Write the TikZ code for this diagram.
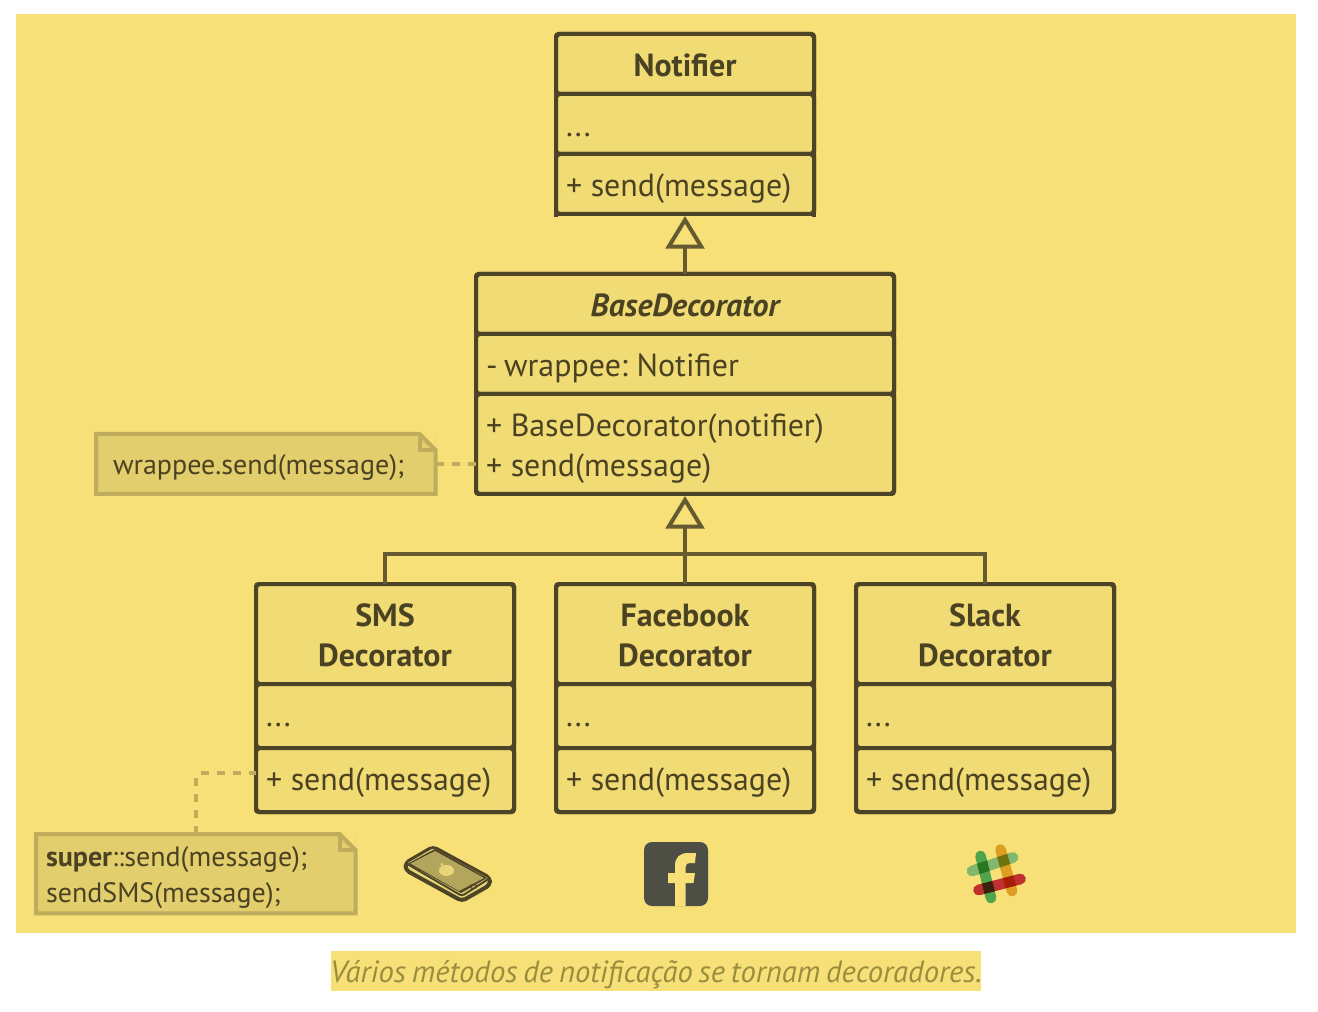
\documentclass[tikz,border=0pt]{standalone}
\usepackage{fontspec}
\setmainfont[WordSpace=0.72]{PT Sans}
\newfontfamily\boxfont[WordSpace=0.5]{PT Sans}
\frenchspacing
\usetikzlibrary{arrows.meta,calc}
\definecolor{panel}{HTML}{F7E077}
\definecolor{comp}{HTML}{F0DB74}
\definecolor{ink}{HTML}{4D4327}
\definecolor{txt}{HTML}{4A4222}
\definecolor{conn}{HTML}{665B30}
\definecolor{notefill}{HTML}{E2CE6C}
\definecolor{noteline}{HTML}{BFAC5C}
\definecolor{cap}{HTML}{9A8D3E}
\definecolor{fbdark}{HTML}{4D4F45}
\definecolor{screen}{HTML}{B3A65C}
\definecolor{apple}{HTML}{E6D675}
\newcommand{\topstrut}{\rule{0pt}{25pt}}
\newcommand{\botstrut}{\rule[-6pt]{0pt}{6pt}}
\newcommand{\botlong}{\rule[-9pt]{0pt}{9pt}}
\newcommand{\ntop}{\rule{0pt}{21.5pt}}
\newcommand{\nbot}{\rule[-5.5pt]{0pt}{5.5pt}}
\newcommand{\tight}{\kern-1.5pt}
\tikzset{
  x=0.75pt,y=-0.75pt,
  compart/.style n args={2}{draw=ink,fill=comp,line width=3pt,rounded corners=3pt,outer sep=0pt,
    inner xsep=7.5pt,inner ysep=0pt,minimum height=#2*0.75pt,minimum width=#1*0.75pt,
    text width=(#1-20)*0.75pt,text=txt,font=\boxfont\fontsize{23.95pt}{30pt}\selectfont,
    execute at begin node=\topstrut,execute at end node=\botstrut},
  headbox/.style n args={2}{compart={#1}{#2},align=center,font=\boxfont\fontsize{23.95pt}{30pt}\selectfont\bfseries},
  bodybox/.style n args={2}{compart={#1}{#2},align=left},
  shortbox/.style={bodybox={258}{64},execute at end node=\botlong},
  backing/.style={fill=ink,rounded corners=3pt},
  inherit/.style={draw=conn,line width=3pt,shorten >=1.5pt,-{Triangle[open,length=24.5pt,width=29pt,line width=3pt]}},
  bus/.style={draw=conn,line width=3pt},
  notebox/.style n args={3}{fill=notefill,outer sep=0pt,inner sep=0pt,minimum width=#1*0.75pt,minimum height=#2*0.75pt,
    text=txt,align=left,text width=(#1-2*#3)*0.75pt,font=\fontsize{21pt}{27pt}\selectfont,
    execute at begin node=\ntop,execute at end node=\nbot},
  noteedge/.style={draw=noteline,line width=3pt,line join=miter},
  notelink/.style={draw=noteline,line width=3pt,dash pattern=on 6pt off 6pt,rounded corners=3pt},
  slackbar/.style={line cap=round,line width=8pt},
}
\begin{document}
\begin{tikzpicture}
\useasboundingbox (0,0) rectangle (1318,1012);
\fill[white] (0,0) rectangle (1318,1012);
\fill[panel] (16,14) rectangle (1296,933);

% class backings
\fill[backing] (554,32) rectangle (816,216);
\fill[backing] (474,272) rectangle (896,496);
\fill[backing] (254,582) rectangle (516,814);
\fill[backing] (554,582) rectangle (816,814);
\fill[backing] (854,582) rectangle (1116,814);

% Notifier
\node[headbox={258}{60}] (nHead) at (685,64) {Notifier};
\node[bodybox={258}{60}] (nMid) at (685,124) {...};
\node[bodybox={258}{60}] (nLow) at (685,184) {+\tight{} send(message)};
\fill[ink] (554,211) rectangle (558,217);
\fill[ink] (812,211) rectangle (816,217);
% BaseDecorator
\node[headbox={418}{60}] (bHead) at (685,304) {\itshape BaseDecorator};
\node[bodybox={418}{60}] (bMid) at (685,364) {-\tight\tight{} wrappee:\tight{} Notifier};
\node[bodybox={418}{100}] (bLow) at (685,444) {+\tight{} BaseDecorator(notifier)\\+\tight{} send(message)};
% SMS
\node[headbox={258}{100}] (sHead) at (385,634) {SMS\\Decorator};
\node[shortbox] (sMid) at (385,716) {...};
\node[shortbox] (sLow) at (385,780) {+\tight{} send(message)};
% Facebook
\node[headbox={258}{100}] (fHead) at (685,634) {Facebook\\Decorator};
\node[shortbox] (fMid) at (685,716) {...};
\node[shortbox] (fLow) at (685,780) {+\tight{} send(message)};
% Slack
\node[headbox={258}{100}] (kHead) at (985,634) {Slack\\Decorator};
\node[shortbox] (kMid) at (985,716) {...};
\node[shortbox] (kLow) at (985,780) {+\tight{} send(message)};

% inheritance
\draw[inherit] (bHead.north) -- (nLow.south);
\coordinate (busC) at (685,554);
\draw[bus] (sHead.north) |- (busC);
\draw[bus] (kHead.north) |- (busC);
\draw[inherit] (fHead.north) -- (bLow.south);

% notes
\node[notebox={339.5}{60}{17}] (noteA) at (265.75,464) {wrappee.send(message);};
\fill[panel] (noteA.north east) ++(-16,0) -- (noteA.north east) -- ++(0,16) -- cycle;
\draw[noteedge] (noteA.north west) -- ($(noteA.north east)+(-16,0)$) -- ($(noteA.north east)+(0,16)$) -- (noteA.south east) -- (noteA.south west) -- cycle;
\draw[noteedge] ($(noteA.north east)+(-16,0)$) -- ++(0,16) -- ++(16,0);
\node[notebox={319.5}{79.3}{10}] (noteB) at (195.75,873.7) {\textbf{super}::send(message);\\sendSMS(message);};
\fill[panel] (noteB.north east) ++(-16,0) -- (noteB.north east) -- ++(0,16) -- cycle;
\draw[noteedge] (noteB.north west) -- ($(noteB.north east)+(-16,0)$) -- ($(noteB.north east)+(0,16)$) -- (noteB.south east) -- (noteB.south west) -- cycle;
\draw[noteedge] ($(noteB.north east)+(-16,0)$) -- ++(0,16) -- ++(16,0);
\coordinate (pinS) at (256,773);
\draw[notelink] (noteA.east) -- (noteA.east -| bLow.west);
\draw[notelink] (noteB.north) |- (pinS);

% phone icon
\begin{scope}[line join=round]
\filldraw[draw=ink,line width=3pt,fill=apple,rounded corners=3pt] (405.5,863) -- (433,847) -- (490,878) -- (490,885) -- (462,901) -- (405.5,870) -- cycle;
\draw[ink,line width=1.4pt,fill=comp!60!screen,rounded corners=2pt] (405.5,863) -- (433,847) -- (490,878) -- (462,896) -- cycle;
\fill[ink] (408,863.5) -- (435,849) -- (487,878) -- (461,893) -- cycle;
\fill[screen] (410.5,863.5) -- (435,851) -- (484,878) -- (459,891) -- cycle;
\fill[apple] (446.5,870.5) ellipse (7.5 and 5.5);
\fill[apple] (442,864.5) ellipse (1.3 and 1.8);
\draw[ink,line width=.8pt] (473.3,886.5) ellipse (3.5 and 2);
\end{scope}

% facebook icon
\fill[fbdark,rounded corners=6pt] (644,842) rectangle (708,906);
\fill[panel] (675,906) -- (675,883) -- (668,883) -- (668,873) -- (675,873) -- (675,866)
  .. controls (675,857) and (680,853) .. (688,853) -- (696,853) -- (695,863) -- (690,863)
  .. controls (687,863) and (685.7,864) .. (685.7,867) -- (685.7,873) -- (695,873) -- (693.5,883) -- (685.7,883) -- (685.7,906) -- cycle;

% slack icon
\begin{scope}[blend group=multiply]
\draw[slackbar,draw={rgb,255:red,130;green,184;blue,110}] (972,871) -- (1013,857.5);
\draw[slackbar,draw={rgb,255:red,80;green,165;blue,74}] (980.5,856) -- (991,898);
\draw[slackbar,draw={rgb,255:red,221;green,158;blue,34}] (1000.5,849.5) -- (1012,891);
\draw[slackbar,draw={rgb,255:red,192;green,48;blue,47}] (978.5,890) -- (1020.5,879);
\end{scope}

% caption
\fill[panel] (331,951) rectangle (981,991);
\node[text=cap,font=\fontsize{23pt}{26pt}\selectfont\itshape,inner sep=0pt,anchor=base] (caption) at (656,982) {Vários métodos de notificação se tornam decoradores.};
\end{tikzpicture}
\end{document}
